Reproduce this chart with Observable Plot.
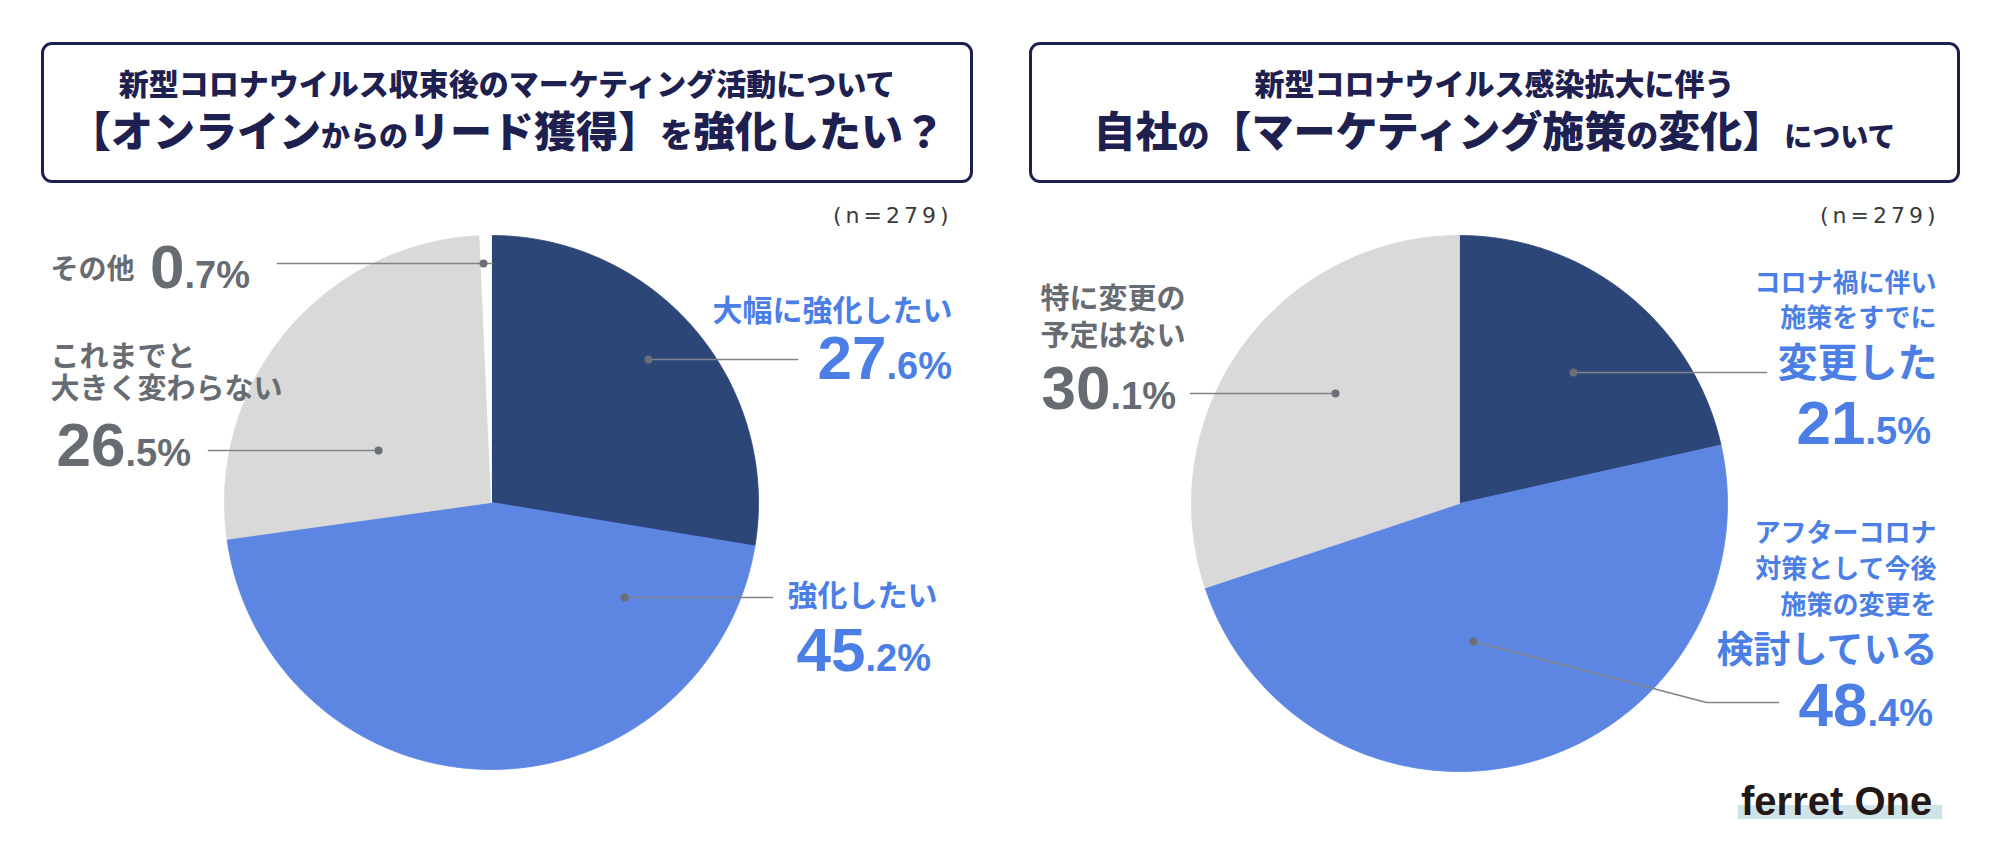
<!DOCTYPE html>
<html><head><meta charset="utf-8">
<script src="https://cdn.jsdelivr.net/npm/d3@7"></script>
<script src="https://cdn.jsdelivr.net/npm/@observablehq/plot@0.6"></script>
<style>
  html,body{margin:0;padding:0;background:#fff;}
  body{width:1999px;height:850px;position:relative;overflow:hidden;}
  #chart{position:absolute;left:0;top:0;}
  .tbox{position:absolute;top:42px;height:141px;box-sizing:border-box;border:3px solid #1e2050;border-radius:11px;background:#fff;}
  .tline{position:absolute;text-align:center;white-space:nowrap;color:#1e2050;font-family:"Noto Sans CJK JP","Noto Sans CJK SC",sans-serif;font-weight:900;}
  .l1{font-size:30px;line-height:40px;height:40px;top:62px;}
  .l2{font-size:42px;line-height:50px;height:50px;top:104px;}
  #logo{position:absolute;left:1741px;top:781px;font-family:"Liberation Sans",Arial,sans-serif;font-weight:700;font-size:40px;line-height:40px;color:#231815;white-space:nowrap;}
  #logobar{position:absolute;left:1738px;top:805px;width:204px;height:14px;background:#cfe3e9;}
</style>
</head>
<body>
<div id="chart"></div>
<div class="tbox" style="left:41px;width:932px;"></div>
<div class="tline l1" style="left:41px;width:932px;">新型コロナウイルス収束後のマーケティング活動について</div>
<div class="tline l2" style="left:41px;width:932px;">【オンライン<span style="font-size:29px">からの</span>リード獲得】<span style="font-size:33px">を</span>強化したい？</div>
<div class="tbox" style="left:1029px;width:931px;"></div>
<div class="tline l1" style="left:1029px;width:931px;">新型コロナウイルス感染拡大に伴う</div>
<div class="tline l2" style="left:1029px;width:931px;">自社<span style="font-size:32px">の</span>【マーケティング施策<span style="font-size:32px">の</span>変化】<span style="font-size:28px">について</span></div>
<div id="logobar"></div>
<div id="logo">ferret One</div>
<script>
// ---------- data ----------
const sampleLabel = "(n=279)";

const leftCategories = ["大幅に強化したい", "強化したい", "これまでと\n大きく変わらない", "その他"];
const leftValues = [27.6, 45.2, 26.5, 0.7];

const rightCategoriesLead = ["コロナ禍に伴い\n施策をすでに", "アフターコロナ\n対策として今後\n施策の変更を", "特に変更の\n予定はない"];
const rightCategoriesKey = ["変更した", "検討している", ""];
const rightValues = [21.5, 48.4, 30.1];

// ---------- styles / layout ----------
const NAVY = "#2d4678", BLUE = "#5d86e3", GRAY = "#d9d9d9", WHITE = "#ffffff";
const TXT_BLUE = "#4c7fe6", TXT_GRAY = "#676b72";
const LEADER = "#80848c", DOT = "#6b6f77";
const JP = "Noto Sans CJK JP", NUM = "Liberation Sans";

const leftColors = [NAVY, BLUE, GRAY, WHITE];
const leftTextColors = [TXT_BLUE, TXT_BLUE, TXT_GRAY, TXT_GRAY];
const rightColors = [NAVY, BLUE, GRAY];
const rightTextColors = [TXT_BLUE, TXT_BLUE, TXT_GRAY];

const pies = {left: {cx: 491, cy: 502, r: 267}, right: {cx: 1459, cy: 503, r: 268}};

// label placement per slice (layout only): lead.y = centre of first text line
const leftLayout = [
  {lead: {x: 952, y: 309, anchor: "end", fs: 30, gap: 32}, num: {x: 886, y: 378}, leader: [[648, 359], [797, 359]], dot: [648, 359]},
  {lead: {x: 787, y: 594, anchor: "start", fs: 30, gap: 32}, num: {x: 865, y: 670}, leader: [[624, 597], [772, 597]], dot: [624, 597]},
  {lead: {x: 50, y: 355, anchor: "start", fs: 29, gap: 32}, num: {x: 125, y: 465}, leader: [[378, 450], [208, 450]], dot: [378, 450]},
  {lead: {x: 50, y: 268, anchor: "start", fs: 28, gap: 32}, num: {x: 184, y: 287}, leader: [[492, 263], [277, 263]], dot: [483, 263]}
];
const rightLayout = [
  {lead: {x: 1936, y: 282, anchor: "end", fs: 26, gap: 35}, key: {x: 1937, y: 361, fs: 40}, num: {x: 1865, y: 443}, leader: [[1573, 372], [1766, 372]], dot: [1573, 372]},
  {lead: {x: 1936, y: 532, anchor: "end", fs: 26, gap: 36}, key: {x: 1937, y: 648, fs: 37}, num: {x: 1867, y: 725}, leader: [[1473, 641], [1706, 702], [1778, 702]], dot: [1473, 641]},
  {lead: {x: 1040, y: 297, anchor: "start", fs: 29, gap: 37}, key: null, num: {x: 1110, y: 408}, leader: [[1335, 393], [1190, 393]], dot: [1335, 393]}
];

// ---------- helpers ----------
function sliceMarks(values, colors, pie) {
  const arcs = d3.pie().sort(null).value(d => d)(values);
  return arcs.map((a, i) => {
    const n = Math.max(2, Math.ceil((a.endAngle - a.startAngle) / (Math.PI / 360)));
    const pts = [{x: pie.cx, y: pie.cy}];
    for (let k = 0; k <= n; ++k) {
      const t = a.startAngle + (a.endAngle - a.startAngle) * k / n;
      pts.push({x: pie.cx + pie.r * Math.sin(t), y: pie.cy - pie.r * Math.cos(t)});
    }
    pts.push({x: pie.cx, y: pie.cy});
    return Plot.line(pts, {x: "x", y: "y", fill: colors[i], stroke: colors[i], strokeWidth: 0.8, curve: "linear"});
  });
}

// multi-line label in a single text element; first line's ink centred on L.y
function leadMarks(text, L, color) {
  if (!text) return [];
  const lh = L.gap / L.fs;
  const y = L.y + 0.38 * L.fs - 0.71 * lh * L.fs;
  return [Plot.text([{t: text, x: L.x, y}], {x: "x", y: "y", text: "t", textAnchor: L.anchor, lineAnchor: "top",
    lineHeight: lh, fontSize: L.fs, fontFamily: JP, fontWeight: 700, fill: color})];
}

function numberMarks(v, N, color) {
  const [ip, fp] = v.toFixed(1).split(".");
  return [
    Plot.text([{t: ip, x: N.x, y: N.y}], {x: "x", y: "y", text: "t", textAnchor: "end", lineAnchor: "bottom",
      fontSize: 62, fontFamily: NUM, fontWeight: 700, fill: color}),
    Plot.text([{t: "." + fp + "%", x: N.x, y: N.y}], {x: "x", y: "y", text: "t", textAnchor: "start", lineAnchor: "bottom",
      fontSize: 38, fontFamily: NUM, fontWeight: 700, fill: color})
  ];
}

function leaderMarks(L) {
  const pts = L.leader.map(([x, y]) => ({x, y}));
  return [
    Plot.line(pts, {x: "x", y: "y", stroke: LEADER, strokeWidth: 1.7}),
    Plot.dot([{x: L.dot[0], y: L.dot[1]}], {x: "x", y: "y", r: 4, fill: DOT, stroke: "none"})
  ];
}

const marks = [];
marks.push(...sliceMarks(leftValues, leftColors, pies.left));
marks.push(...sliceMarks(rightValues, rightColors, pies.right));
leftValues.forEach((v, i) => {
  const L = leftLayout[i];
  marks.push(...leaderMarks(L));
  marks.push(...leadMarks(leftCategories[i], L.lead, leftTextColors[i]));
  marks.push(...numberMarks(v, L.num, leftTextColors[i]));
});
rightValues.forEach((v, i) => {
  const L = rightLayout[i];
  marks.push(...leaderMarks(L));
  marks.push(...leadMarks(rightCategoriesLead[i], L.lead, rightTextColors[i]));
  if (L.key) marks.push(...leadMarks(rightCategoriesKey[i], {x: L.key.x, y: L.key.y, anchor: "end", fs: L.key.fs, gap: L.key.fs}, rightTextColors[i]));
  marks.push(...numberMarks(v, L.num, rightTextColors[i]));
});
// sample size labels
marks.push(Plot.text([{t: sampleLabel, x: 952, y: 215}, {t: sampleLabel, x: 1939, y: 215}], {
  x: "x", y: "y", text: "t", textAnchor: "end", lineAnchor: "middle", fontSize: 22, fontFamily: "DejaVu Sans", fill: "#3a3a3a"}));

const svg = Plot.plot({
  width: 1999, height: 850, margin: 0,
  x: {domain: [0, 1999], range: [0, 1999], axis: null},
  y: {domain: [0, 850], range: [0, 850], axis: null},
  style: {background: "transparent", overflow: "visible"},
  marks
});
svg.querySelectorAll("text").forEach(t => {
  if (t.textContent.includes("n=")) t.setAttribute("letter-spacing", "4");
});
document.getElementById("chart").appendChild(svg);
</script>
</body></html>
